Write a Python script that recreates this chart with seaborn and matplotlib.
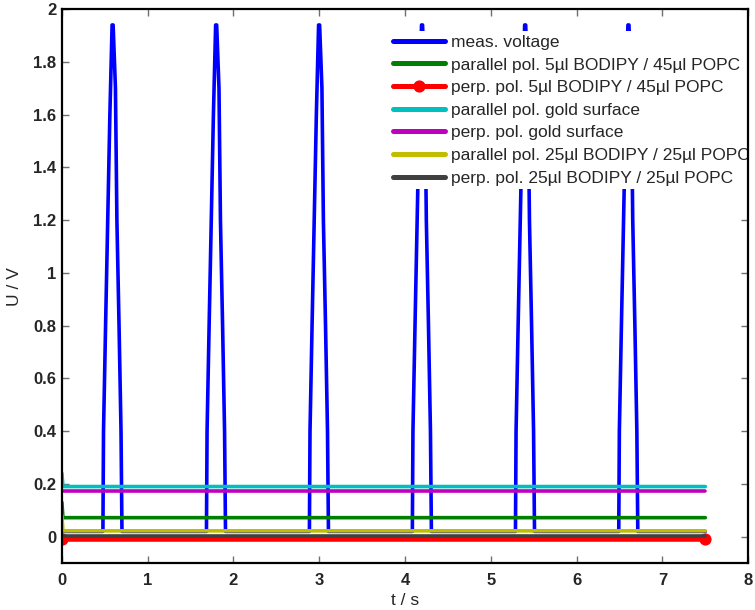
import numpy as np
import pandas as pd
import matplotlib
matplotlib.use("Agg")
import matplotlib.pyplot as plt
import seaborn as sns
from matplotlib.ticker import FormatStrFormatter

# ---- data ----
pulse_centers = [0.589, 1.796, 2.996, 4.196, 5.398, 6.602]
pulse_dt = [-0.111, -0.104, -0.080, -0.055, -0.030, -0.004, 0.008, 0.035, 0.052, 0.077, 0.100, 0.111]
pulse_u = [0.02, 0.40, 0.80, 1.20, 1.60, 1.94, 1.94, 1.70, 1.20, 0.80, 0.40, 0.02]
voltage_start_end = [0.0, 7.5]
voltage_base = 0.02

t_flat = [0.0, 0.012, 7.5]
par_5_45 = [0.13, 0.072, 0.072]
perp_5_45 = [-0.008, -0.008, -0.008]
par_gold = [0.24, 0.19, 0.19]
perp_gold = [0.174, 0.174, 0.174]
par_25_25 = [0.08, 0.022, 0.022]
perp_25_25 = [0.004, 0.004, 0.004]

labels = ["meas. voltage",
          "parallel pol. 5µl BODIPY / 45µl POPC",
          "perp. pol. 5µl BODIPY / 45µl POPC",
          "parallel pol. gold surface",
          "perp. pol. gold surface",
          "parallel pol. 25µl BODIPY / 25µl POPC",
          "perp. pol. 25µl BODIPY / 25µl POPC"]
colors = ["#0000ff", "#008000", "#ff0000", "#00bfbf", "#bf00bf", "#bfbf00", "#404040"]

xticks = [0, 1, 2, 3, 4, 5, 6, 7, 8]
yticks = [0, 0.2, 0.4, 0.6, 0.8, 1.0, 1.2, 1.4, 1.6, 1.8, 2.0]

# build voltage trace
vt = [voltage_start_end[0]]
vu = [voltage_base]
for c in pulse_centers:
    for d, u in zip(pulse_dt, pulse_u):
        vt.append(c + d)
        vu.append(u)
vt.append(voltage_start_end[1])
vu.append(voltage_base)

sns.set_style("ticks")
plt.rcParams['font.family'] = ['Liberation Sans', 'DejaVu Sans']

fig = plt.figure(figsize=(7.55, 6.1), dpi=100)
ax = fig.add_axes([0.082, 0.077, 0.909, 0.908])

df_v = pd.DataFrame({"t": vt, "U": vu})
sns.lineplot(data=df_v, x="t", y="U", ax=ax, color=colors[0], lw=2.6,
             sort=False, estimator=None, label=labels[0])

series = [par_5_45, perp_5_45, par_gold, perp_gold, par_25_25, perp_25_25]
for i, s in enumerate(series, start=1):
    df = pd.DataFrame({"t": t_flat, "U": s})
    kw = dict(lw=2.6)
    if i == 2:
        kw = dict(lw=4.0, marker="o", markersize=8, markevery=[0, len(t_flat) - 1],
                  markeredgecolor=colors[i])
    sns.lineplot(data=df, x="t", y="U", ax=ax, color=colors[i], sort=False,
                 estimator=None, label=labels[i], **kw)

ax.set_xlim(0, 8)
ax.set_ylim(-0.1, 2.0)
ax.set_xticks(xticks)
ax.set_yticks(yticks)
ax.yaxis.set_major_formatter(FormatStrFormatter('%g'))
ax.xaxis.set_major_formatter(FormatStrFormatter('%g'))
for lab in ax.get_xticklabels() + ax.get_yticklabels():
    lab.set_fontweight('bold')
    lab.set_fontsize(12)
ax.tick_params(axis='y', direction='in', length=5, width=1, color='#707070',
               right=True, pad=4)
ax.tick_params(axis='x', direction='in', length=5, width=1, color='#707070',
               top=True, pad=7)
for sp in ax.spines.values():
    sp.set_visible(True)
    sp.set_linewidth(1.6)
    sp.set_color('black')
    sp.set_zorder(10)
ax.set_xlabel("t / s", fontsize=12.5, labelpad=4)
ax.set_ylabel("U / V", fontsize=12.5, labelpad=8)

leg = ax.legend(loc='upper left', bbox_to_anchor=(0.477, 0.96), fontsize=12.5,
                frameon=True, facecolor='white', edgecolor='none', framealpha=1,
                fancybox=False, handlelength=3.0, handletextpad=0.35,
                labelspacing=0.43, borderpad=0.2, borderaxespad=0, numpoints=1)
for h in leg.get_lines():
    h.set_linewidth(3.6)

fig.savefig("out.png", dpi=100)
